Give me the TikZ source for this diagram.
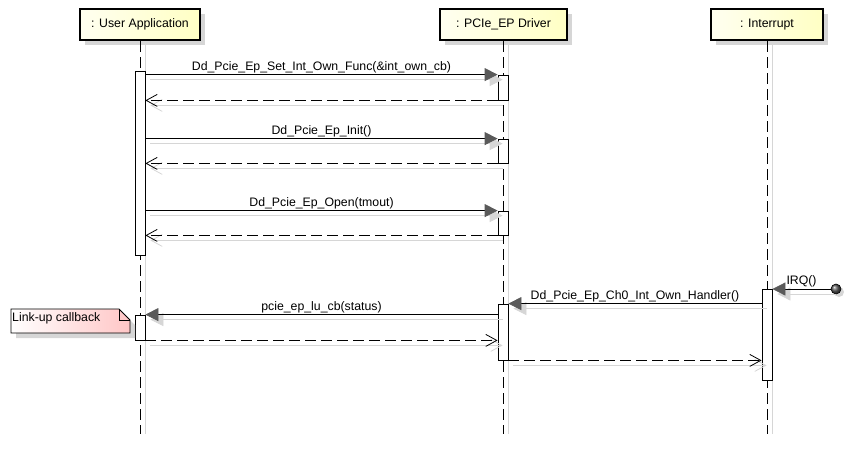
\documentclass[tikz,border=0pt]{standalone}
\usepackage{fontspec}
\setmainfont{Liberation Sans}
\usetikzlibrary{arrows.meta,calc,shadows,shadings}
\definecolor{shd}{RGB}{214,214,214}
\definecolor{hdrA}{RGB}{255,255,240}
\definecolor{hdrB}{RGB}{255,255,196}
\definecolor{noteB}{RGB}{255,198,198}
\definecolor{tipfill}{RGB}{90,90,90}
\newcommand\syncmsg[3]{%
  \draw[syncshd] #1 -- #2;
  \draw[syncm] #1 -- node[lbl]{#3} #2;}
\newcommand\retmsg[2]{%
  \draw[retshd] #1 -- #2;
  \draw[retm] #1 -- #2;}
\begin{document}
\begin{tikzpicture}[x=1pt,y=-1pt,
  font=\fontsize{12.3}{14}\selectfont,
  hdr/.style={draw,line width=2.2pt,minimum width=#1,minimum height=31pt,inner sep=0pt,
    left color=hdrA,right color=hdrB,
    drop shadow={shadow xshift=5pt,shadow yshift=-5pt,fill=shd,opacity=1}},
  actbar/.style={draw,fill=white,line width=0.8pt,minimum width=10pt,inner sep=0pt},
  lifel/.style={line width=0.9pt,dash pattern=on 11pt off 5pt},
  lifeshd/.style={draw=shd,line width=0.9pt},
  syncm/.style={line width=0.8pt,-{Triangle[length=13pt,width=13pt,fill=tipfill,color=tipfill]}},
  syncshd/.style={draw=shd,line width=0.8pt,-{Triangle[length=13pt,width=13pt,fill=shd,color=shd]},
    transform canvas={xshift=5pt,yshift=-5pt}},
  retm/.style={line width=0.8pt,dash pattern=on 11pt off 5pt,-{Straight Barb[length=11pt,width=12pt]}},
  retshd/.style={draw=shd,line width=0.8pt,-{Straight Barb[length=11pt,width=12pt]},
    transform canvas={xshift=5pt,yshift=-5pt}},
  lbl/.style={midway,anchor=base,yshift=4.5pt,inner sep=0pt},
]
\useasboundingbox (0,0) rectangle (849,461);

% lifeline ends
\coordinate (uaend) at (140,434);
\coordinate (drvend) at (503,434);
\coordinate (intend) at (767,434);

% lifeline shadows
\draw[lifeshd] (145,45) -- ([xshift=5pt]uaend);
\draw[lifeshd] (508,45) -- ([xshift=5pt]drvend);
\draw[lifeshd] (772,45) -- ([xshift=5pt]intend);

% headers
\node[hdr=120pt] (ua) at (140,24.5) {: User Application};
\node[hdr=127pt] (drv) at (503.5,24.5) {: PCIe\_EP Driver};
\node[hdr=112pt] (intr) at (767,24.5) {: Interrupt};

% lifelines
\draw[lifel] (ua.south -| uaend) -- (uaend);
\draw[lifel] (drv.south -| drvend) -- (drvend);
\draw[lifel] (intr.south -| intend) -- (intend);

% activation bars
\node[actbar,minimum height=184pt] (ua1) at (140,163) {};
\node[actbar,minimum height=25pt] (d1) at (503,87.5) {};
\node[actbar,minimum height=24pt] (d2) at (503,151) {};
\node[actbar,minimum height=24pt] (d3) at (503,223) {};
\node[actbar,minimum height=91pt] (i1) at (767,334.5) {};
\node[actbar,minimum height=56pt] (d4) at (503,332) {};
\node[actbar,minimum height=25pt] (ua2) at (140,327.5) {};

% messages
\syncmsg{(ua1.east |- d1.north)}{(d1.north west)}{Dd\_Pcie\_Ep\_Set\_Int\_Own\_Func(\&int\_own\_cb)}
\retmsg{(d1.south west)}{(d1.south west -| ua1.east)}
\syncmsg{(ua1.east |- d2.north)}{(d2.north west)}{Dd\_Pcie\_Ep\_Init()}
\retmsg{(d2.south west)}{(d2.south west -| ua1.east)}
\syncmsg{(ua1.east |- d3.north)}{(d3.north west)}{Dd\_Pcie\_Ep\_Open(tmout)}
\retmsg{(d3.south west)}{(d3.south west -| ua1.east)}

% IRQ
\node[circle,minimum size=10pt,inner sep=0pt,draw=black,line width=0.6pt,ball color=gray!70!black,
  drop shadow={shadow xshift=3pt,shadow yshift=-3pt,fill=shd,opacity=1}] (irq) at (836,289) {};
\syncmsg{(irq.west)}{(irq.west -| i1.east)}{IRQ()}
\syncmsg{(i1.west |- d4.north)}{(d4.north east)}{Dd\_Pcie\_Ep\_Ch0\_Int\_Own\_Handler()}
\syncmsg{(d4.west |- ua2.north)}{(ua2.north east)}{pcie\_ep\_lu\_cb(status)}
\retmsg{(ua2.south east)}{(ua2.south east -| d4.west)}
\retmsg{(d4.south east)}{(d4.south east -| i1.west)}

% note
\fill[shd] (16,314) -- (124,314) -- (135,325) -- (135,338) -- (16,338) -- cycle;
\shadedraw[left color=white,right color=noteB,draw=black,line width=0.8pt]
  (11,309) -- (119,309) -- (130,320) -- (130,333) -- (11,333) -- cycle;
\draw[line width=0.8pt] (119,309) -- (119,320) -- (130,320);
\node[anchor=west,inner sep=0pt] (note) at (12,318) {Link-up callback};
\end{tikzpicture}
\end{document}
